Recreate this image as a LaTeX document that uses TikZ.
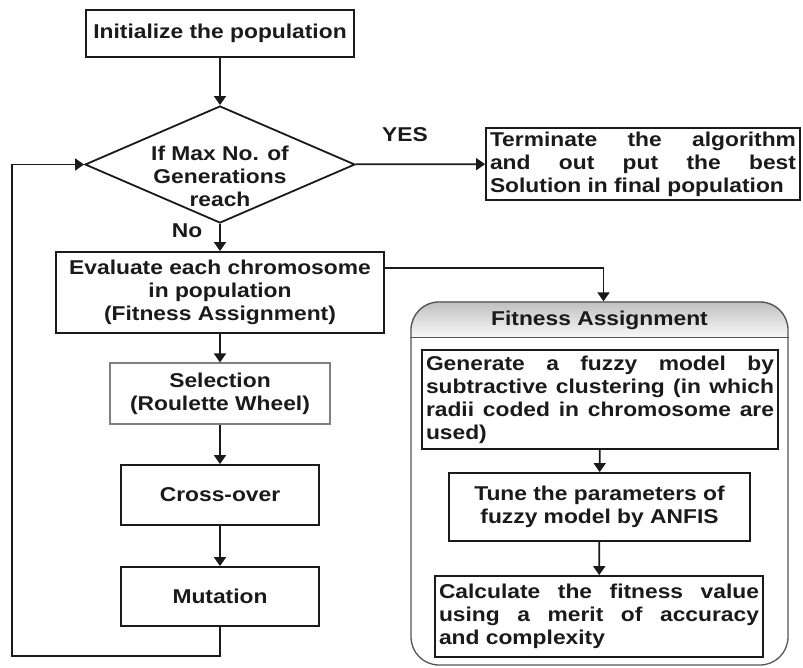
\documentclass[tikz,border=0pt]{standalone}
\usepackage{fontspec}
\setmainfont{Liberation Sans}[FakeStretch=1.14]
\usetikzlibrary{arrows.meta, shapes.geometric, backgrounds}
\definecolor{inkline}{HTML}{1a1a1a}
\definecolor{frameline}{HTML}{555555}
\tikzset{
  every node/.style={font=\bfseries\fontsize{20bp}{23bp}\selectfont, text=inkline},
  stepbox/.style={draw=inkline, line width=1.8bp, align=center, inner sep=2bp},
  textbox/.style={draw=inkline, line width=1.8bp, align=justify, inner sep=3bp},
  decision/.style={draw=inkline, line width=1.8bp, shape=diamond, inner sep=0pt},
  flow/.style={draw=inkline, line width=1.8bp, -{Triangle[length=9bp,width=12bp]}},
}

\begin{document}
\begin{tikzpicture}[x=1bp, y=-1bp]
  \useasboundingbox (0,0) rectangle (803,668);

  % Main loop of the algorithm
  \node[stepbox, minimum width=268bp, minimum height=47bp] (init) at (220,33.5) {Initialize the population};
  \node[decision, minimum width=270bp, minimum height=117bp] (maxgen) at (220,164.5) {};
  \node[align=center] (maxgentext) at (220,176) {If Max No. of\\Generations\\reach};
  \node[textbox, text width=306bp, minimum height=70bp, inner sep=4bp] (terminate) at (643,164)
    {Terminate the algorithm\linebreak and out put the best\linebreak Solution in final population};
  \node[stepbox, minimum width=328bp, minimum height=81bp] (evaluate) at (220,292.5)
    {Evaluate each chromosome\\in population\\(Fitness Assignment)};
  \node[stepbox, draw=gray, line width=1.1bp, minimum width=220bp, minimum height=61bp] (selection) at (220,393.5)
    {Selection\\(Roulette Wheel)};
  \node[stepbox, minimum width=198bp, minimum height=60bp] (crossover) at (220,495) {Cross-over};
  \node[stepbox, minimum width=198bp, minimum height=59bp] (mutation) at (220,596.5) {Mutation};
  \coordinate (loopcorner) at (12,656);

  % Labels of the decision
  \node (yeslabel) at (405,135) {YES};
  \node (nolabel) at (187,231) {No};

  % Fitness assignment block
  \node[draw=frameline, line width=1.3bp, rounded corners=28bp, minimum width=377bp, minimum height=363bp] (fitbox) at (599.5,483.5) {};
  \begin{scope}[on background layer]
    \clip[rounded corners=28bp] (fitbox.north west) rectangle (fitbox.south east);
    \shade[top color=gray!50, bottom color=gray!5] (fitbox.north west) rectangle ([yshift=-36bp]fitbox.north east);
  \end{scope}
  \draw[frameline, line width=1.3bp] ([yshift=-36bp]fitbox.north west) -- ([yshift=-36bp]fitbox.north east);
  \node (fithead) at (599.5,320) {Fitness Assignment};
  \node[textbox, text width=348bp, minimum height=99bp, inner sep=4bp] (generate) at (600,399.5)
    {Generate a fuzzy model by\linebreak subtractive clustering (in which\linebreak radii coded in chromosome are\linebreak used)};
  \node[stepbox, minimum width=301bp, minimum height=68bp] (tune) at (599.5,507)
    {Tune the parameters of\\fuzzy model by ANFIS};
  \node[textbox, text width=320bp, minimum height=81bp, inner sep=4bp] (calculate) at (599,616.5)
    {Calculate the fitness value\linebreak using a merit of accuracy\linebreak and complexity};

  % Connectors
  \draw[flow] (init) -- (maxgen);
  \draw[flow] (maxgen) -- (terminate);
  \draw[flow] (maxgen) -- (evaluate);
  \draw[flow] (evaluate) -- (selection);
  \draw[flow] (selection) -- (crossover);
  \draw[flow] (crossover) -- (mutation);
  \draw[flow] (mutation.south) |- (loopcorner) |- (maxgen.west);
  \draw[flow] ([yshift=24.5bp]evaluate.east) -| ([xshift=4bp]fitbox.north);
  \draw[flow] (generate) -- (tune);
  \draw[flow] (tune) -- (calculate);
\end{tikzpicture}
\end{document}
